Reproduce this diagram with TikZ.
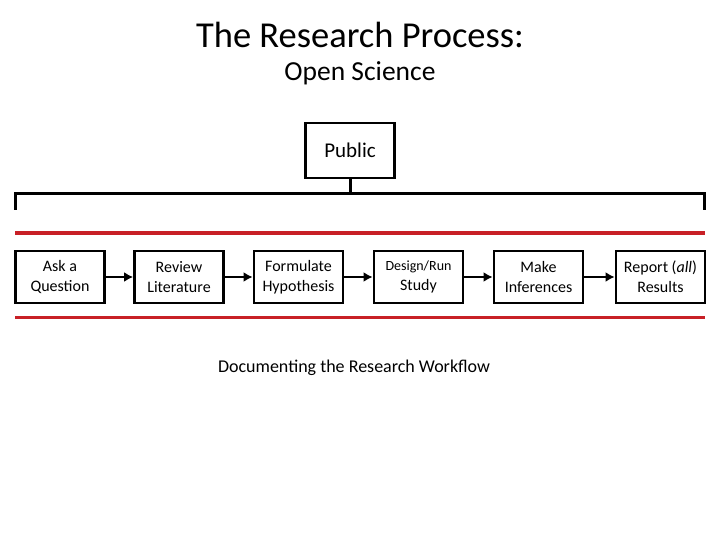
\documentclass[tikz,border=0pt]{standalone}
\usepackage{fontspec}
\setmainfont{Carlito}
\usetikzlibrary{arrows.meta}
\definecolor{barred}{RGB}{200,32,38}
\begin{document}
\begin{tikzpicture}[x=1pt,y=-1pt]
  \useasboundingbox (0,0) rectangle (720,540);

  % titles
  \node (title) at (360,35) {\fontsize{36.5}{40}\selectfont The Research Process:};
  \node (sub)   at (360,73) {\fontsize{27.5}{32}\selectfont Open Science};

  \begin{scope}[every node/.style={draw, line width=2.8pt, minimum width=89pt,
      minimum height=52pt, align=center, inner sep=2pt, font=\fontsize{16}{20}\selectfont}]
    \node (pub) at (350,150.5) [minimum height=55pt, font=\fontsize{21}{24}\selectfont] {Public};
    \node (1) at (60,277)    {Ask a\\Question};
    \node (2) at (179,277)   {Review\\Literature};
    \node (3) at (298.5,277) {Formulate\\Hypothesis};
    \node (4) at (418.5,277) {{\fontsize{14}{20}\selectfont Design/Run}\\Study};
    \node (5) at (538.5,277) {Make\\Inferences};
    \node (6) at (660.5,277) {Report (\textit{all})\\Results};
  \end{scope}

  \node (doc) at (354,368) {\fontsize{18}{22}\selectfont Documenting the Research Workflow};

  % bracket under Public
  \coordinate (bl) at (15,210);
  \coordinate (tl) at (15,194);
  \coordinate (tr) at (704,194);
  \coordinate (br) at (704,210);
  \draw[line width=3pt] (bl) -- (tl) -- (tr) -- (br);
  \draw[line width=3pt] (pub.south) -- (pub.south |- tl);

  % red bars
  \draw[barred, line width=3pt] (15,233) -- (705,233);
  \draw[barred, line width=3pt] (15,317) -- (705,317);

  \begin{scope}[every edge/.style={draw, line width=2.8pt, -{Latex[length=9pt,width=10pt]}}]
    \path (1) edge (2);
    \path (2) edge (3);
    \path (3) edge (4);
    \path (4) edge (5);
    \path (5) edge (6);
  \end{scope}

\end{tikzpicture}
\end{document}
